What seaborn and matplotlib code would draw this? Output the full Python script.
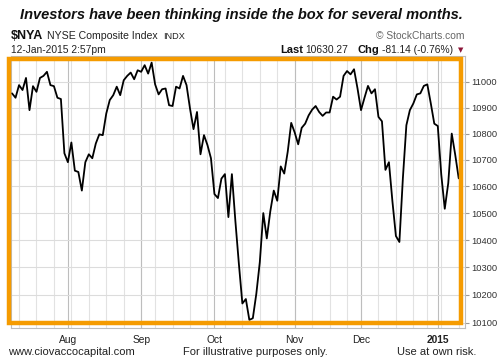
import matplotlib
matplotlib.use("Agg")
import matplotlib.pyplot as plt
from matplotlib.patches import Rectangle
from matplotlib.ticker import FixedLocator, NullLocator, FixedFormatter
import seaborn as sns
import pandas as pd
import numpy as np

# ---- data (NYSE Composite daily closes) ----
holidays = ["2014-09-01", "2014-11-27", "2014-12-25", "2015-01-01"]
dates = pd.bdate_range("2014-07-10", "2015-01-12", freq="C", holidays=holidays)

close = [
    10955, 10938, 10987, 10968, 11015, 10890, 10983, 10961, 11015, 11023,
    11039, 10987, 10983, 10938, 10933, 10725, 10691, 10766, 10659, 10654,
    10584, 10691, 10721, 10706, 10762, 10797, 10794, 10877, 10929, 10948,
    10981, 10948, 11006, 11023, 11036, 11010, 11045, 11039, 11065, 11032,
    11075, 10990, 10951, 10971, 10974, 10909, 10906, 10981, 10974, 11023,
    10987, 10896, 10817, 10883, 10721, 10794, 10756, 10706, 10571, 10556,
    10629, 10646, 10485, 10646, 10470, 10313, 10169, 10185, 10110, 10116,
    10204, 10319, 10500, 10406, 10506, 10584, 10546, 10675, 10648, 10731,
    10841, 10804, 10759, 10822, 10838, 10870, 10892, 10906, 10883, 10868,
    10881, 10881, 10942, 10931, 10942, 11023, 11042, 11029, 11049, 10974,
    10890, 10938, 10984, 10955, 10971, 10864, 10847, 10662, 10691, 10544,
    10415, 10393, 10631, 10832, 10890, 10916, 10951, 10955, 10984, 10990,
    10916, 10838, 10829, 10644, 10516, 10612, 10800, 10719, 10630,
]
ytick_values = [10100, 10200, 10300, 10400, 10500, 10600, 10700, 10800, 10900, 11000]
month_labels = ["Aug", "Sep", "Oct", "Nov", "Dec", "2015"]

df = pd.DataFrame({"day": np.arange(len(close)), "close": close, "date": dates})

# ---- style ----
sns.set_style("white")
plt.rcParams["font.family"] = ["Liberation Sans", "DejaVu Sans"]

W, H = 499, 363
fig = plt.figure(figsize=(W / 100, H / 100), dpi=100)

def fx(x):
    return x / W

def fy(y):
    return 1 - y / H

ax = fig.add_axes([fx(11), fy(328), fx(465) - fx(11), fy(56) - fy(328)])

sns.lineplot(data=df, x="day", y="close", ax=ax, color="black", linewidth=1.3, zorder=5)

ax.set_yscale("log")
ax.set_ylim(10081, 11101)
ax.set_xlim(-0.3, 129.8)

# y axis on right
ax.yaxis.tick_right()
ax.yaxis.set_major_locator(FixedLocator(ytick_values))
ax.yaxis.set_major_formatter(FixedFormatter([str(v) for v in ytick_values]))
ax.yaxis.set_minor_locator(NullLocator())
ax.tick_params(axis="y", which="major", right=True, left=False, length=3, width=0.8,
               color="#999999", labelsize=6.7, labelcolor="#333333", pad=1.5)

# x axis: month starts (major) and each trading day (minor)
month_first = df.groupby(df["date"].dt.to_period("M"))["day"].min().values[1:]
week_first = df.groupby(df["date"].dt.to_period("W"))["day"].min().values[1:]
ax.xaxis.set_major_locator(FixedLocator(month_first))
ax.xaxis.set_major_formatter(FixedFormatter(month_labels))
ax.xaxis.set_minor_locator(FixedLocator(df["day"].values))
ax.tick_params(axis="x", which="major", length=4, width=0.8, color="#aaaaaa",
               labelsize=7.4, labelcolor="#222222", pad=1.2)
ax.tick_params(axis="x", which="minor", length=1.8, width=0.6, color="#bbbbbb")
for lbl in ax.get_xticklabels():
    if lbl.get_text() == "2015":
        lbl.set_fontweight("bold")

ax.set_xlabel("")
ax.set_ylabel("")

# grid
ax.grid(True, axis="y", which="major", color="#dcdcdc", linewidth=0.8)
ax.grid(True, axis="x", which="major", color="#bdbdbd", linewidth=0.8)
ax.vlines(week_first, 0, 1, transform=ax.get_xaxis_transform(), color="#e2e2e2",
          linewidth=0.8, zorder=0)
ax.set_axisbelow(True)

for s in ax.spines.values():
    s.set_color("#bdbdbd")
    s.set_linewidth(0.8)

# orange box
fig.patches.append(Rectangle((fx(9), fy(323)), fx(461) - fx(9), fy(59) - fy(323),
                             transform=fig.transFigure, fill=False,
                             edgecolor="#F59B00", linewidth=3.2, zorder=10))

# header texts
fig.text(fx(241), fy(19.5), "Investors have been thinking inside the box for several months.",
         ha="center", va="baseline", fontsize=10.5, fontweight="bold", style="italic",
         color="#111111")
fig.text(fx(11), fy(39), "$NYA", ha="left", va="baseline", fontsize=9, fontweight="bold",
         color="#111111")
fig.text(fx(47), fy(39), "NYSE Composite Index", ha="left", va="baseline", fontsize=7.6,
         color="#222222")
fig.text(fx(163), fy(39), "INDX", ha="left", va="baseline", fontsize=6.6, color="#222222")
fig.text(fx(465), fy(39), "\u00a9 StockCharts.com", ha="right", va="baseline", fontsize=7.4,
         color="#666666")
fig.text(fx(11), fy(53), "12-Jan-2015 2:57pm", ha="left", va="baseline", fontsize=7.4,
         color="#222222")
fig.text(fx(280), fy(53), "Last", ha="left", va="baseline", fontsize=8, fontweight="bold",
         color="#111111")
fig.text(fx(305), fy(53), "10630.27", ha="left", va="baseline", fontsize=7.4, color="#222222")
fig.text(fx(357), fy(53), "Chg", ha="left", va="baseline", fontsize=8, fontweight="bold",
         color="#111111")
fig.text(fx(382), fy(53), "-81.14 (-0.76%)", ha="left", va="baseline", fontsize=7.4,
         color="#222222")
fig.text(fx(458), fy(52), "\u25bc", ha="left", va="baseline", fontsize=5,
         color="#8B1538", family=["DejaVu Sans"])

# footer texts
fig.text(fx(8), fy(355), "www.ciovaccocapital.com", ha="left", va="baseline", fontsize=8,
         color="#222222")
fig.text(fx(183), fy(355), "For illustrative purposes only.", ha="left", va="baseline",
         fontsize=8, color="#222222")
fig.text(fx(397), fy(355), "Use at own risk.", ha="left", va="baseline", fontsize=8,
         color="#222222")

fig.savefig("out.png", dpi=100)
